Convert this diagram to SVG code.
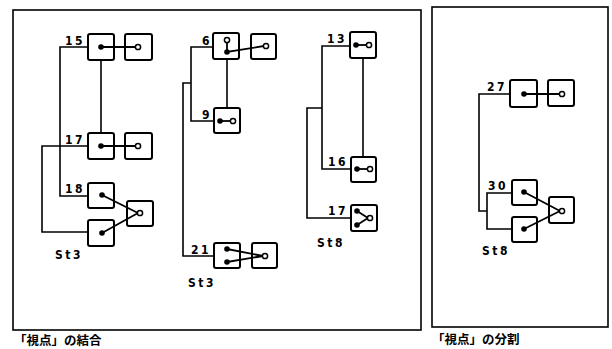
<svg xmlns="http://www.w3.org/2000/svg" width="612" height="349" viewBox="0 0 612 349">
<style>
.panel{fill:none;stroke:#000;stroke-width:1.6}
.box{fill:#fff;stroke:#000;stroke-width:2}
.ln{fill:none;stroke:#000;stroke-width:1.6}
.in{fill:none;stroke:#000;stroke-width:1.8}
.dot{fill:#000}
.od{fill:#fff;stroke:#000;stroke-width:1.5}
.lbl{font-family:"DejaVu Sans Condensed","DejaVu Sans",sans-serif;font-stretch:condensed;font-weight:bold;font-size:12px;letter-spacing:2.5px;fill:#000}
.cap{font-family:"Noto Sans CJK JP","Noto Sans CJK SC",sans-serif;font-weight:bold;font-size:12.5px;fill:#000}
</style>
<rect class="panel" x="13" y="10" width="408" height="320"/>
<rect class="panel" x="432" y="7" width="176" height="320"/>
<g id="connectors">
<path class="ln" d="M88,47 H60 V196 H88"/>
<path class="ln" d="M101,60 V133"/>
<path class="ln" d="M88,146 H42 V232 H88"/>
<path class="ln" d="M213,47 H191 V121 H214"/>
<path class="ln" d="M227,59 V108"/>
<path class="ln" d="M191,83 H183 V256 H214"/>
<path class="ln" d="M350,46 H322 V169 H351"/>
<path class="ln" d="M363,58 V157"/>
<path class="ln" d="M322,108 H307 V218 H351"/>
<path class="ln" d="M510,94 H479 V211 H487"/>
<path class="ln" d="M512,193 H487 V229 H512"/>
</g>
<g id="n15">
<rect class="box" x="88" y="34" width="26" height="26" rx="2"/>
<rect class="box" x="125" y="34" width="27" height="26" rx="2"/>
<path class="in" d="M101,47 H138"/>
<circle class="dot" cx="101" cy="47" r="2.8"/>
<circle class="od" cx="138" cy="47" r="2.6"/>
<text class="lbl" x="65" y="45">15</text>
</g>
<g id="n17">
<rect class="box" x="88" y="133" width="26" height="26" rx="2"/>
<rect class="box" x="125" y="133" width="27" height="26" rx="2"/>
<path class="in" d="M101,146 H138"/>
<circle class="dot" cx="101" cy="146" r="2.8"/>
<circle class="od" cx="138" cy="146" r="2.6"/>
<text class="lbl" x="65" y="144">17</text>
</g>
<g id="n18">
<rect class="box" x="88" y="183" width="26" height="25" rx="2"/>
<rect class="box" x="88" y="220" width="26" height="26" rx="2"/>
<rect class="box" x="127" y="201" width="26" height="25" rx="2"/>
<path class="in" d="M102,195 L138,213 M102,233 L138,213"/>
<circle class="dot" cx="102" cy="195" r="2.8"/>
<circle class="dot" cx="102" cy="233" r="2.8"/>
<circle class="od" cx="140" cy="213" r="2.6"/>
<text class="lbl" x="65" y="193">18</text>
<text class="lbl" x="55" y="259">St3</text>
</g>
<g id="n6">
<rect class="box" x="213" y="33" width="26" height="26" rx="2"/>
<rect class="box" x="251" y="34" width="25" height="25" rx="2"/>
<path class="in" d="M227,42 V52 L264,46"/>
<circle class="od" cx="227" cy="40" r="2.6"/>
<circle class="dot" cx="227" cy="52" r="2.8"/>
<circle class="od" cx="266" cy="46" r="2.6"/>
<text class="lbl" x="202" y="45">6</text>
</g>
<g id="n9">
<rect class="box" x="214" y="108" width="26" height="25" rx="2"/>
<path class="in" d="M220,121 H231"/>
<circle class="dot" cx="220" cy="121" r="2.8"/>
<circle class="od" cx="233" cy="121" r="2.6"/>
<text class="lbl" x="202" y="119">9</text>
</g>
<g id="n21">
<rect class="box" x="214" y="243" width="26" height="25" rx="2"/>
<rect class="box" x="252" y="243" width="25" height="25" rx="2"/>
<path class="in" d="M227,249 L263,256 M227,262 L263,256"/>
<circle class="dot" cx="227" cy="249" r="2.8"/>
<circle class="dot" cx="227" cy="262" r="2.8"/>
<circle class="od" cx="265" cy="256" r="2.6"/>
<text class="lbl" x="191" y="254">21</text>
<text class="lbl" x="188" y="287">St3</text>
</g>
<g id="n13">
<rect class="box" x="350" y="32" width="26" height="26" rx="2"/>
<path class="in" d="M356,45 H367"/>
<circle class="dot" cx="356" cy="45" r="2.8"/>
<circle class="od" cx="369" cy="45" r="2.6"/>
<text class="lbl" x="327" y="43">13</text>
</g>
<g id="n16">
<rect class="box" x="351" y="157" width="25" height="25" rx="2"/>
<path class="in" d="M357,169 H368"/>
<circle class="dot" cx="357" cy="169" r="2.8"/>
<circle class="od" cx="370" cy="169" r="2.6"/>
<text class="lbl" x="328" y="166">16</text>
</g>
<g id="n17b">
<rect class="box" x="351" y="205" width="26" height="26" rx="2"/>
<path class="in" d="M357,211 L368,218 M357,225 L368,218"/>
<circle class="dot" cx="357" cy="211" r="2.8"/>
<circle class="dot" cx="357" cy="225" r="2.8"/>
<circle class="od" cx="370" cy="218" r="2.6"/>
<text class="lbl" x="328" y="215">17</text>
<text class="lbl" x="317" y="247">St8</text>
</g>
<g id="n27">
<rect class="box" x="510" y="80" width="27" height="27" rx="2"/>
<rect class="box" x="548" y="80" width="26" height="26" rx="2"/>
<path class="in" d="M524,94 H560"/>
<circle class="dot" cx="524" cy="94" r="2.8"/>
<circle class="od" cx="562" cy="94" r="2.6"/>
<text class="lbl" x="487" y="91">27</text>
</g>
<g id="n30">
<rect class="box" x="512" y="180" width="25" height="25" rx="2"/>
<rect class="box" x="512" y="217" width="25" height="25" rx="2"/>
<rect class="box" x="549" y="197" width="25" height="26" rx="2"/>
<path class="in" d="M524,192 L560,211 M524,229 L560,211"/>
<circle class="dot" cx="524" cy="192" r="2.8"/>
<circle class="dot" cx="524" cy="229" r="2.8"/>
<circle class="od" cx="562" cy="211" r="2.6"/>
<text class="lbl" x="488" y="190">30</text>
<text class="lbl" x="482" y="255">St8</text>
</g>
<text class="cap" x="14" y="345">「視点」の結合</text>
<text class="cap" x="432" y="344">「視点」の分割</text>
</svg>
